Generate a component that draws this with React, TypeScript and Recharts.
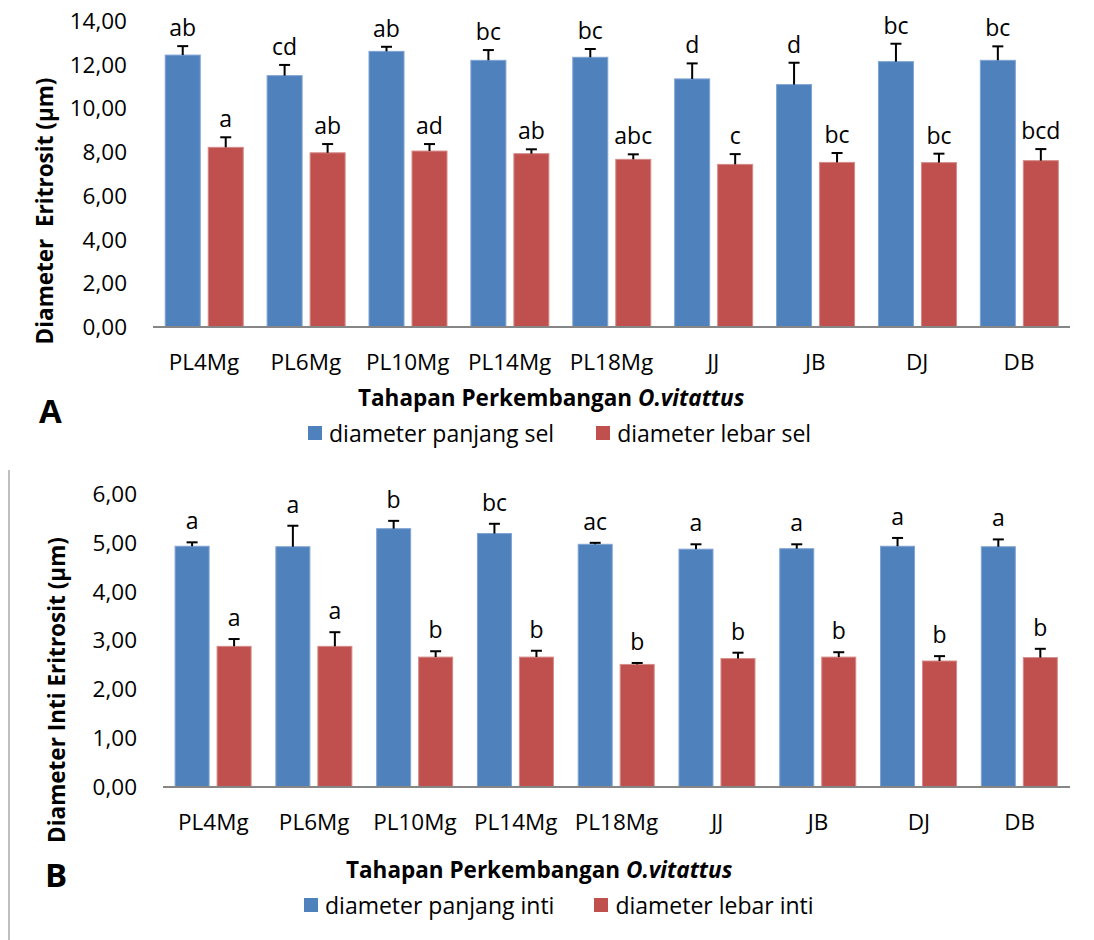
import React from 'react';
import { BarChart, Bar, XAxis, YAxis } from 'recharts';

const categories = ['PL4Mg', 'PL6Mg', 'PL10Mg', 'PL14Mg', 'PL18Mg', 'JJ', 'JB', 'DJ', 'DB'];

// Chart A: diameter sel (µm)
const panjangSel = [12.44, 11.5, 12.61, 12.2, 12.34, 11.35, 11.09, 12.14, 12.2];
const panjangSelSD = [0.41, 0.49, 0.21, 0.47, 0.38, 0.71, 1.0, 0.82, 0.64];
const panjangSelSig = ['ab', 'cd', 'ab', 'bc', 'bc', 'd', 'd', 'bc', 'bc'];
const lebarSel = [8.22, 7.97, 8.05, 7.93, 7.67, 7.44, 7.53, 7.52, 7.61];
const lebarSelSD = [0.46, 0.4, 0.32, 0.2, 0.23, 0.47, 0.43, 0.41, 0.53];
const lebarSelSig = ['a', 'ab', 'ad', 'ab', 'abc', 'c', 'bc', 'bc', 'bcd'];
const ticksA = [0, 2, 4, 6, 8, 10, 12, 14];

// Chart B: diameter inti (µm)
const panjangInti = [4.93, 4.92, 5.29, 5.19, 4.97, 4.87, 4.88, 4.93, 4.92];
const panjangIntiSD = [0.08, 0.43, 0.16, 0.2, 0.03, 0.1, 0.09, 0.17, 0.15];
const panjangIntiSig = ['a', 'a', 'b', 'bc', 'ac', 'a', 'a', 'a', 'a'];
const lebarInti = [2.88, 2.88, 2.66, 2.66, 2.51, 2.63, 2.66, 2.58, 2.65];
const lebarIntiSD = [0.15, 0.29, 0.12, 0.13, 0.03, 0.12, 0.1, 0.1, 0.18];
const lebarIntiSig = ['a', 'a', 'b', 'b', 'b', 'b', 'b', 'b', 'b'];
const ticksB = [0, 1, 2, 3, 4, 5, 6];

const dataA = categories.map((c, i) => ({
  cat: c,
  p: panjangSel[i], pErr: panjangSelSD[i], pSig: panjangSelSig[i],
  l: lebarSel[i], lErr: lebarSelSD[i], lSig: lebarSelSig[i],
}));
const dataB = categories.map((c, i) => ({
  cat: c,
  p: panjangInti[i], pErr: panjangIntiSD[i], pSig: panjangIntiSig[i],
  l: lebarInti[i], lErr: lebarIntiSD[i], lSig: lebarIntiSig[i],
}));

const BLUE = '#4F81BD';
const RED = '#C0504D';
const FONT = '"Open Sans", sans-serif';
const fmt = (v: number) => v.toFixed(2).replace('.', ',');

const makeShape = (fill: string, stroke: string, errKey: string, sigKey: string, labelGap: number) => (props: any) => {
  const { x, y, width, height, value, payload } = props;
  const v = Array.isArray(value) ? value[1] - value[0] : value;
  const pxPerUnit = v ? height / v : 0;
  const err = payload[errKey] * pxPerUnit;
  const cx = x + width / 2;
  const top = y - err;
  return (
    <g>
      <rect x={x} y={y} width={width} height={height} fill={fill} stroke={stroke} strokeWidth={1} />
      <line x1={cx} x2={cx} y1={y} y2={top} stroke="#000" strokeWidth={2} />
      <line x1={cx - 5.5} x2={cx + 5.5} y1={top} y2={top} stroke="#000" strokeWidth={2} />
      <text x={cx} y={top - labelGap} textAnchor="middle" fontFamily={FONT} fontSize={23} fill="#000">
        {payload[sigKey]}
      </text>
    </g>
  );
};

const tickStyle = { fontFamily: FONT, fontSize: 22.5, fill: '#000' };

const Title = ({ left, top }: { left: number; top: number }) => (
  <div style={{ position: 'absolute', left, top, fontFamily: FONT, fontSize: 22.5, fontWeight: 700, whiteSpace: 'nowrap', lineHeight: '26px' }}>
    Tahapan Perkembangan <i>O.vitattus</i>
  </div>
);

const LegendRow = ({ top, left, a, b, gap }: { top: number; left: number; a: string; b: string; gap: number }) => (
  <div style={{ position: 'absolute', left, top, fontFamily: FONT, fontSize: 23, whiteSpace: 'nowrap', display: 'flex', alignItems: 'center', lineHeight: '26px' }}>
    <span style={{ display: 'inline-block', width: 14, height: 14, background: BLUE, marginRight: 7 }} />
    <span>{a}</span>
    <span style={{ display: 'inline-block', width: 14, height: 14, background: RED, marginLeft: gap, marginRight: 7 }} />
    <span>{b}</span>
  </div>
);

export default function App() {
  return (
    <div style={{ position: 'absolute', left: 0, top: 0, width: 1094, height: 940, background: '#fff', overflow: 'hidden' }}>
      {/* Chart A */}
      <div style={{ position: 'absolute', left: 0, top: 0 }}>
        <BarChart width={1094} height={460} data={dataA} margin={{ top: 21, right: 24, left: 0, bottom: 0 }} barCategoryGap="12%" barGap={8}>
          <XAxis dataKey="cat" height={133} tickLine={false} tickSize={0} tickMargin={27} axisLine={{ stroke: '#868686', strokeWidth: 2 }} tick={tickStyle} interval={0} />
          <YAxis width={153} domain={[0, 14]} ticks={ticksA} tickFormatter={fmt} axisLine={false} tickLine={false} tickSize={0} tickMargin={26} tick={tickStyle} />
          <Bar dataKey="p" isAnimationActive={false} shape={makeShape(BLUE, '#7FA3D3', 'pErr', 'pSig', 10)} />
          <Bar dataKey="l" isAnimationActive={false} shape={makeShape(RED, '#D48A88', 'lErr', 'lSig', 10)} />
        </BarChart>
      </div>
      <div style={{ position: 'absolute', left: 45, top: 211, transform: 'translate(-50%, -50%) rotate(-90deg)', fontFamily: FONT, fontSize: 22.5, fontWeight: 700, whiteSpace: 'pre', lineHeight: '26px' }}>
        {'Diameter  Eritrosit (µm)'}
      </div>
      <Title left={358} top={385} />
      <div style={{ position: 'absolute', left: 39, top: 392, fontFamily: FONT, fontSize: 33, fontWeight: 700, lineHeight: '38px' }}>A</div>
      <LegendRow top={420} left={308} a="diameter panjang sel" b="diameter lebar sel" gap={42} />

      {/* Chart B */}
      <div style={{ position: 'absolute', left: 8, top: 470, width: 0, height: 470, borderLeft: '2px solid #BFBFBF' }} />
      <div style={{ position: 'absolute', left: 0, top: 460 }}>
        <BarChart width={1094} height={480} data={dataB} margin={{ top: 34, right: 24, left: 0, bottom: 0 }} barCategoryGap="12%" barGap={8}>
          <XAxis dataKey="cat" height={153} tickLine={false} tickSize={0} tickMargin={27} axisLine={{ stroke: '#868686', strokeWidth: 2 }} tick={tickStyle} interval={0} />
          <YAxis width={163} domain={[0, 6]} ticks={ticksB} tickFormatter={fmt} axisLine={false} tickLine={false} tickSize={0} tickMargin={26} tick={tickStyle} />
          <Bar dataKey="p" isAnimationActive={false} shape={makeShape(BLUE, '#7FA3D3', 'pErr', 'pSig', 13)} />
          <Bar dataKey="l" isAnimationActive={false} shape={makeShape(RED, '#D48A88', 'lErr', 'lSig', 13)} />
        </BarChart>
      </div>
      <div style={{ position: 'absolute', left: 57, top: 690, transform: 'translate(-50%, -50%) rotate(-90deg)', fontFamily: FONT, fontSize: 22.5, fontWeight: 700, whiteSpace: 'pre', lineHeight: '26px' }}>
        {'Diameter Inti Eritrosit (µm)'}
      </div>
      <Title left={346} top={857} />
      <div style={{ position: 'absolute', left: 45, top: 856, fontFamily: FONT, fontSize: 33, fontWeight: 700, lineHeight: '38px' }}>B</div>
      <LegendRow top={892} left={304} a="diameter panjang inti" b="diameter lebar inti" gap={40} />
    </div>
  );
}
